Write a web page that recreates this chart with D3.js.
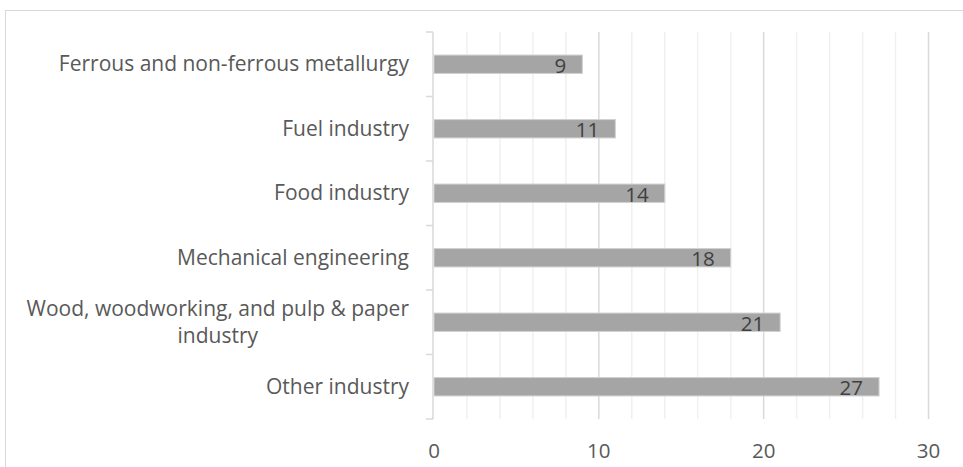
<!DOCTYPE html>
<html>
<head>
<meta charset="utf-8">
<script src="https://cdn.jsdelivr.net/npm/d3@7"></script>
<style>
  body { margin: 0; background: #fff; }
  text { font-family: "Open Sans", sans-serif; }
</style>
</head>
<body>
<script>
// Data
const categories = [
  'Ferrous and non-ferrous metallurgy',
  'Fuel industry',
  'Food industry',
  'Mechanical engineering',
  'Wood, woodworking, and pulp & paper|industry',
  'Other industry'
];
const values = [9, 11, 14, 18, 21, 27];
const xTicks = [0, 10, 20, 30];

const width = 963;
const height = 467;
const margin = { top: 32, right: 35, bottom: 48, left: 434 };

const svg = d3.select('body')
  .append('svg')
  .attr('width', width)
  .attr('height', height);

// Chart area border
svg.append('rect')
  .attr('x', 5.5)
  .attr('y', 10.5)
  .attr('width', 1000)
  .attr('height', 600)
  .attr('fill', 'none')
  .attr('stroke', '#d9d9d9');

const xScale = d3.scaleLinear()
  .domain([0, 30])
  .range([margin.left, 928.5]);

const yScale = d3.scaleBand()
  .domain(categories)
  .range([margin.top, height - margin.bottom])
  .paddingInner(0.715)
  .paddingOuter(0.3575);

const yOuter = d3.scaleBand()
  .domain(categories)
  .range([margin.top, height - margin.bottom]);

const plotTop = margin.top;
const plotBottom = height - margin.bottom;

// Minor gridlines
svg.append('g')
  .selectAll('line')
  .data(d3.range(2, 31, 2).filter((d) => d % 10 !== 0))
  .join('line')
  .attr('x1', (d) => xScale(d))
  .attr('x2', (d) => xScale(d))
  .attr('y1', plotTop)
  .attr('y2', plotBottom)
  .attr('stroke', '#f0f0f0')
  .attr('stroke-width', 1.5);

// Major gridlines
svg.append('g')
  .selectAll('line')
  .data(xTicks.slice(1))
  .join('line')
  .attr('x1', (d) => xScale(d))
  .attr('x2', (d) => xScale(d))
  .attr('y1', plotTop)
  .attr('y2', plotBottom)
  .attr('stroke', '#d9d9d9')
  .attr('stroke-width', 1.5);

// Bars
svg.append('g')
  .selectAll('rect')
  .data(values)
  .join('rect')
  .attr('x', xScale(0))
  .attr('y', (d, i) => yScale(categories[i]))
  .attr('width', (d) => xScale(d) - xScale(0))
  .attr('height', yScale.bandwidth())
  .attr('fill', '#a5a5a5')
  .attr('stroke', '#d0d0d0')
  .attr('stroke-width', 1);

// Data labels
svg.append('g')
  .selectAll('text')
  .data(values)
  .join('text')
  .attr('x', (d) => xScale(d) - 16)
  .attr('y', (d, i) => yScale(categories[i]) + yScale.bandwidth() / 2 + 8.5)
  .attr('text-anchor', 'end')
  .attr('font-size', '20.5px')
  .attr('fill', '#404040')
  .text((d) => d);

// Y axis line with ticks
const yAxisG = svg.append('g');
yAxisG.append('line')
  .attr('x1', xScale(0) - 1)
  .attr('x2', xScale(0) - 1)
  .attr('y1', plotTop)
  .attr('y2', plotBottom)
  .attr('stroke', '#d9d9d9')
  .attr('stroke-width', 1.5);
yAxisG.selectAll('.tick')
  .data(categories.map((c) => yOuter(c)).concat([plotBottom]))
  .join('line')
  .attr('x1', xScale(0) - 8)
  .attr('x2', xScale(0) - 1)
  .attr('y1', (d) => d)
  .attr('y2', (d) => d)
  .attr('stroke', '#d9d9d9')
  .attr('stroke-width', 1.5);

// Category labels (wrapped lines centred on each other, block right-aligned)
const labelRight = 409;
const labelG = svg.append('g');
categories.forEach((c) => {
  const lines = c.split('|');
  const cy = yOuter(c) + yOuter.bandwidth() / 2;
  const lineH = 27;
  const t = labelG.append('text')
    .attr('font-size', '21px')
    .attr('fill', '#595959')
    .attr('text-anchor', 'middle')
    .attr('y', cy - (lines.length - 1) * lineH / 2 + 7);
  const spans = lines.map((l, j) => t.append('tspan')
    .attr('dy', j === 0 ? 0 : lineH)
    .text(l));
  const maxW = d3.max(spans, (s) => s.node().getComputedTextLength());
  spans.forEach((s) => s.attr('x', labelRight - maxW / 2));
});

// X tick labels
svg.append('g')
  .selectAll('text')
  .data(xTicks)
  .join('text')
  .attr('x', (d) => xScale(d))
  .attr('y', 458)
  .attr('text-anchor', 'middle')
  .attr('font-size', '20.5px')
  .attr('fill', '#595959')
  .text((d) => d);
</script>
</body>
</html>
